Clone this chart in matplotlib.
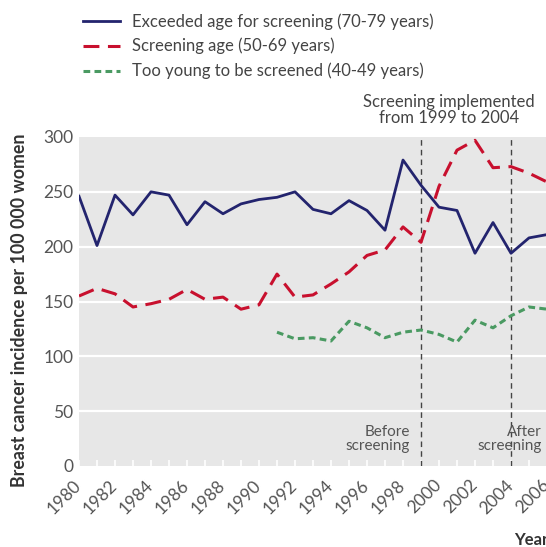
import matplotlib
matplotlib.use("Agg")
import matplotlib.pyplot as plt
import numpy as np

plt.rcParams['font.family'] = ['Lato', 'DejaVu Sans']

years = list(range(1980, 2007))
old_70_79 = [246, 201, 247, 229, 250, 247, 220, 241, 230, 239, 243, 245, 250,
             234, 230, 242, 233, 215, 279, 256, 236, 233, 194, 222, 194, 208, 211]
mid_50_69 = [155, 162, 157, 145, 148, 152, 161, 152, 154, 143, 147, 175, 154,
             156, 166, 177, 192, 197, 218, 204, 255, 288, 297, 272, 273, 267, 259]
young_years = list(range(1991, 2007))
young_40_49 = [122, 116, 117, 114, 132, 126, 117, 122, 124, 120, 113, 133, 126, 137, 145, 143]

series_labels = ["Exceeded age for screening (70-79 years)",
                 "Screening age (50-69 years)",
                 "Too young to be screened (40-49 years)"]
yticks = [0, 50, 100, 150, 200, 250, 300]
xticks_major = list(range(1980, 2007, 2))
screen_start, screen_end = 1999, 2004

W, H = 546, 547
fig = plt.figure(figsize=(W/100, H/100), dpi=100)
ax = fig.add_axes([79/W, 1-466/H, (547-79)/W, (466-137)/H])
ax.set_facecolor('#e7e7e7')
for s in ax.spines.values():
    s.set_visible(False)

ax.set_xlim(1980, 2006)
ax.set_ylim(0, 300)
ax.set_yticks(yticks)
for y in yticks[1:-1]:
    ax.axhline(y, color='white', lw=1.6, zorder=1)

navy = '#23246e'
red = '#c8102e'
green = '#4a9a62'
l1, = ax.plot(years, old_70_79, color=navy, lw=2.0, zorder=3)
l2, = ax.plot(years, mid_50_69, color=red, lw=2.2, dashes=(5.2, 2.8), zorder=3)
l3, = ax.plot(young_years, young_40_49, color=green, lw=2.2, dashes=(2.2, 1.4), zorder=3)

for xv in (screen_start, screen_end):
    ax.axvline(xv, color='#444444', lw=1.0, dashes=(4, 3), zorder=2)

ax.set_xticks(years, minor=True)
ax.set_xticks(xticks_major)
ax.set_xticklabels([str(x) for x in xticks_major], rotation=45, ha='right',
                   va='center', rotation_mode='anchor')
ax.tick_params(axis='x', which='both', direction='in', length=4, width=1.2,
               color='white', labelsize=12.5, labelcolor='#555555', pad=12)
ax.tick_params(axis='y', length=0, labelsize=12.5, labelcolor='#555555', pad=4)

ax.set_ylabel("Breast cancer incidence per 100 000 women", fontsize=12.8,
              fontweight='bold', color='#333333')
ax.yaxis.set_label_coords(-51/(547-79), (466-310)/(466-137))

fig.text(514/W, 1-540/H, "Year", fontsize=12, fontweight='bold', color='#333333',
         ha='left', va='center')

ax.text(449/W, 1-110/H, "Screening implemented\nfrom 1999 to 2004", transform=fig.transFigure,
        ha='center', va='center', fontsize=12, color='#444444', linespacing=1.0)
ax.text(410/W, 1-439/H, "Before\nscreening", transform=fig.transFigure,
        ha='right', va='center', fontsize=11, color='#555555', linespacing=1.0)
ax.text(542/W, 1-439/H, "After\nscreening", transform=fig.transFigure,
        ha='right', va='center', fontsize=11, color='#555555', linespacing=1.0)

leg = fig.legend([l1, l2, l3], series_labels, loc='upper left',
                 bbox_to_anchor=(68/W, 1+2/H), frameon=False, fontsize=12,
                 handlelength=2.2, handletextpad=0.75, labelspacing=0.5)
for t in leg.get_texts():
    t.set_color('#444444')

fig.savefig('out.png', dpi=100)
